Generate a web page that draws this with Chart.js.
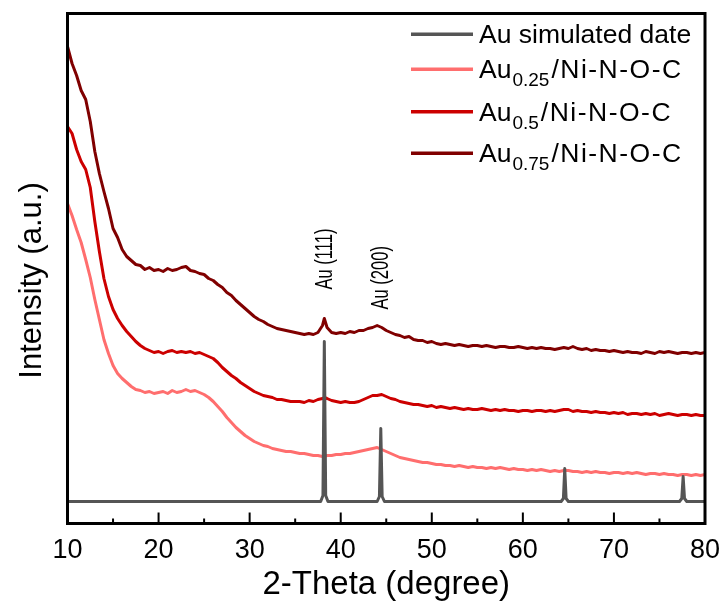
<!DOCTYPE html>
<html><head><meta charset="utf-8">
<script src="https://cdn.jsdelivr.net/npm/chart.js@4.4.1/dist/chart.umd.min.js"></script>
<style>html,body{margin:0;padding:0;background:#fff;}#wrap{width:726px;height:610px;}</style>
</head><body><div id="wrap"><canvas id="c" width="726" height="610" style="width:726px;height:610px"></canvas></div>
<script>
// ---- data (2-Theta in degrees, intensity in arbitrary units) ----
const twoTheta = [
 10,10.5,11,11.5,12,12.5,13,13.5,14,14.5,
 15,15.5,16,16.5,17,17.5,18,18.5,19,19.5,
 20,20.5,21,21.5,22,22.5,23,23.5,24,24.5,
 25,25.5,26,26.5,27,27.5,28,28.5,29,29.5,
 30,30.5,31,31.5,32,32.5,33,33.5,34,34.5,
 35,35.5,36,36.5,37,37.5,38,38.2,38.5,39,39.5,
 40,40.5,41,41.5,42,42.5,43,43.5,44,44.5,
 45,45.5,46,46.5,47,47.5,48,48.5,49,49.5,
 50,50.5,51,51.5,52,52.5,53,53.5,54,54.5,
 55,55.5,56,56.5,57,57.5,58,58.5,59,59.5,
 60,60.5,61,61.5,62,62.5,63,63.5,64,64.5,
 65,65.5,66,66.5,67,67.5,68,68.5,69,69.5,
 70,70.5,71,71.5,72,72.5,73,73.5,74,74.5,
 75,75.5,76,76.5,77,77.5,78,78.5,79,79.5,
 80];

const au075 = [
 477,460,448,433,424,402,372,350,332,315,
 295,286,274,267,263,259,258,254,256,253,
 254,252,255,253,254,256,257,253,252,250,
 249,245,243,239,236,231,228,223,219,215,
 211,207,204,202,199,197,195,194,193,192,
 191,190,189,190,189,191,198,205,196,191,190,
 191,190,192,191,193,193,195,196,198,196,
 193,191,189,188,186,187,184,183,183,181,
 182,180,179,180,179,178,179,178,177,178,
 178,177,178,177,176,177,177,176,176,177,
 176,175,176,175,176,175,175,174,175,176,
 175,177,175,174,175,173,174,173,173,172,
 173,172,171,172,171,171,170,172,171,170,
 172,171,172,171,170,171,171,170,171,170,
 171];

const au05 = [
 397,390,374,362,354,336,302,272,245,227,
 214,205,198,192,187,182,178,175,173,171,
 172,170,172,173,171,172,171,172,170,171,
 169,167,165,161,156,152,148,145,141,138,
 135,132,130,128,127,126,124,124,123,122,
 122,122,121,123,122,124,125,126,125,123,122,
 121,122,121,121,122,124,126,128,128,129,
 127,125,124,122,121,120,119,119,118,117,
 118,116,117,116,115,116,115,114,115,114,
 114,115,114,113,114,113,114,113,113,112,
 113,113,112,113,113,112,113,112,113,114,
 114,112,113,112,112,111,112,111,111,110,
 111,110,111,109,110,110,109,110,109,110,
 108,109,110,109,108,109,109,108,109,108,
 108];

const au025 = [
 320,308,294,281,264,246,224,204,184,170,
 158,150,145,141,137,134,133,131,132,130,
 131,132,130,133,131,132,134,132,133,131,
 129,126,122,117,112,106,101,96,92,88,
 85,82,80,78,77,75,74,73,72,72,
 71,70,70,69,68,68,67,67,68,68,69,
 69,70,70,71,72,73,74,75,76,74,
 72,70,68,66,65,64,63,62,61,61,
 60,59,59,58,58,57,58,57,56,57,
 56,56,55,56,55,56,55,54,55,54,
 54,53,54,53,54,53,52,53,52,53,
 53,52,52,51,52,51,52,51,51,50,
 51,51,50,51,50,51,50,49,50,50,
 49,50,49,49,48,49,49,48,49,48,
 49];

const simTheta = [10,37.8,38.05,38.2,38.35,38.6,44.0,44.25,44.4,44.55,44.8,64.2,64.45,64.6,64.75,65.0,77.2,77.45,77.6,77.75,78.0,80];
const simIntensity = [22,22,28,182,28,22,22,27,95,27,22,22,25,55,25,22,22,25,47,25,22,22];

const seriesNames = ['Au simulated date','Au0.25/Ni-N-O-C','Au0.5/Ni-N-O-C','Au0.75/Ni-N-O-C'];
const legendMain = ['Au simulated date','Au','Au','Au'];
const legendSub  = ['','0.25','0.5','0.75'];
const legendTail = ['','/Ni-N-O-C','/Ni-N-O-C','/Ni-N-O-C'];
const seriesColors = ['#555555','#FF6E6E','#CC0000','#800000'];

const peakLabels = ['Au (111)','Au (200)'];
const peakPositions = [38.2, 44.4];
const peakLabelBase = [234, 214];

const xMin = 10, xMax = 80, xStep = 10;
const yMin = 0, yMax = 510;
const xTitle = '2-Theta (degree)';
const yTitle = 'Intensity (a.u.)';

// ---- fonts ----
const FONT = "'Liberation Sans', Arial, Helvetica, sans-serif";
const NARROW_NAME = "'Liberation Sans Narrow'";
function fontAvailable(name) {
  const c = document.createElement('canvas').getContext('2d');
  const s = 'mmmmmmwwwwlliiI0123456789';
  c.font = '40px monospace'; const w1 = c.measureText(s).width;
  c.font = '40px ' + name + ', monospace'; const w2 = c.measureText(s).width;
  c.font = '40px serif'; const w3 = c.measureText(s).width;
  c.font = '40px ' + name + ', serif'; const w4 = c.measureText(s).width;
  return w1 !== w2 || w3 !== w4;
}
const hasNarrow = fontAvailable(NARROW_NAME);
const TICK_FONT = hasNarrow ? NARROW_NAME + ', ' + FONT : FONT;
const TICK_SIZE = hasNarrow ? 30 : 27;

// ---- chart ----
const toPts = (xs, ys) => xs.map((x, i) => ({x: x, y: ys[i]}));

const framePlugin = {
  id: 'frame',
  afterDraw(chart) {
    const ctx = chart.ctx, a = chart.chartArea;
    const xs = chart.scales.x;
    ctx.save();
    ctx.strokeStyle = '#000';
    ctx.lineWidth = 2;
    const majors = xs.ticks.map(t => t.value);
    majors.forEach((v, i) => {
      const px = xs.getPixelForValue(v);
      ctx.beginPath(); ctx.moveTo(px, a.bottom); ctx.lineTo(px, a.bottom - 11); ctx.stroke();
      if (i < majors.length - 1) {
        const mp = xs.getPixelForValue((v + majors[i + 1]) / 2);
        ctx.beginPath(); ctx.moveTo(mp, a.bottom); ctx.lineTo(mp, a.bottom - 5); ctx.stroke();
      }
    });
    ctx.lineWidth = 3;
    ctx.strokeRect(a.left, a.top, a.right - a.left, a.bottom - a.top);
    // y-axis title
    ctx.fillStyle = '#000';
    ctx.font = '31px ' + FONT;
    ctx.textAlign = 'center';
    ctx.textBaseline = 'middle';
    ctx.translate(32, (a.top + a.bottom) / 2 + 12);
    ctx.rotate(-Math.PI / 2);
    ctx.fillText(yTitle, 0, 0);
    ctx.restore();
  }
};

const annotPlugin = {
  id: 'annot',
  afterDatasetsDraw(chart) {
    const ctx = chart.ctx, xs = chart.scales.x, ys = chart.scales.y;
    ctx.save();
    ctx.fillStyle = '#000';
    ctx.textAlign = 'left';
    ctx.textBaseline = 'middle';
    peakLabels.forEach((t, i) => {
      const px = xs.getPixelForValue(peakPositions[i]) + 1;
      const py = ys.getPixelForValue(peakLabelBase[i]);
      ctx.save();
      ctx.translate(px, py);
      ctx.rotate(-Math.PI / 2);
      if (hasNarrow) {
        ctx.font = '23px ' + NARROW_NAME + ', ' + FONT;
      } else {
        ctx.font = '23px ' + FONT;
        ctx.scale(0.72, 1);
      }
      ctx.fillText(t, 0, 0);
      ctx.restore();
    });
    ctx.restore();
  }
};

const legendPlugin = {
  id: 'customLegend',
  afterDraw(chart) {
    const ctx = chart.ctx;
    const rowsY = [34.3, 69.3, 111.7, 153.3];
    const lineX0 = 411, lineX1 = 473, textX = 479;
    ctx.save();
    legendMain.forEach((m, i) => {
      const y = rowsY[i];
      ctx.strokeStyle = seriesColors[i];
      ctx.lineWidth = 3.5;
      ctx.beginPath(); ctx.moveTo(lineX0, y); ctx.lineTo(lineX1, y); ctx.stroke();
      ctx.fillStyle = '#000';
      ctx.textBaseline = 'alphabetic';
      ctx.textAlign = 'left';
      ctx.font = '26.5px ' + FONT;
      const base = y + 9;
      ctx.fillText(m, textX, base);
      let x = textX + ctx.measureText(m).width + 1;
      if (legendSub[i]) {
        ctx.font = '19px ' + FONT;
        ctx.fillText(legendSub[i], x, base + 8);
        x += ctx.measureText(legendSub[i]).width + 2;
        ctx.font = '26.5px ' + FONT;
        if ('letterSpacing' in ctx) ctx.letterSpacing = '1.5px';
        ctx.fillText(legendTail[i], x, base);
        if ('letterSpacing' in ctx) ctx.letterSpacing = '0px';
      }
    });
    ctx.restore();
  }
};

new Chart(document.getElementById('c'), {
  type: 'line',
  data: {
    datasets: [
      {label: seriesNames[0], data: toPts(simTheta, simIntensity), borderColor: seriesColors[0], borderWidth: 3},
      {label: seriesNames[1], data: toPts(twoTheta, au025), borderColor: seriesColors[1], borderWidth: 3},
      {label: seriesNames[2], data: toPts(twoTheta, au05), borderColor: seriesColors[2], borderWidth: 3},
      {label: seriesNames[3], data: toPts(twoTheta, au075), borderColor: seriesColors[3], borderWidth: 3}
    ]
  },
  options: {
    responsive: false,
    animation: false,
    devicePixelRatio: 1,
    elements: {point: {radius: 0}, line: {tension: 0, borderJoinStyle: 'round', borderCapStyle: 'round'}},
    layout: {padding: {top: 13.5, right: 21, bottom: 0, left: 0}},
    plugins: {legend: {display: false}, tooltip: {enabled: false}},
    scales: {
      x: {
        type: 'linear', min: xMin, max: xMax,
        grid: {display: false, drawTicks: false},
        border: {display: false},
        ticks: {stepSize: xStep, maxRotation: 0, padding: 11, color: '#000', font: {family: TICK_FONT, size: TICK_SIZE}},
        title: {display: true, text: xTitle, color: '#000', font: {family: FONT, size: 33}, padding: {top: 0, bottom: 5}},
        afterFit(s) { s.height = 86.5; s.paddingLeft = 0; s.paddingRight = 0; }
      },
      y: {
        type: 'linear', min: yMin, max: yMax,
        grid: {display: false, drawTicks: false},
        border: {display: false},
        ticks: {display: false},
        title: {display: false, text: yTitle},
        afterFit(s) { s.width = 67.5; s.paddingTop = 0; s.paddingBottom = 0; }
      }
    }
  },
  plugins: [annotPlugin, framePlugin, legendPlugin]
});
</script></body></html>
